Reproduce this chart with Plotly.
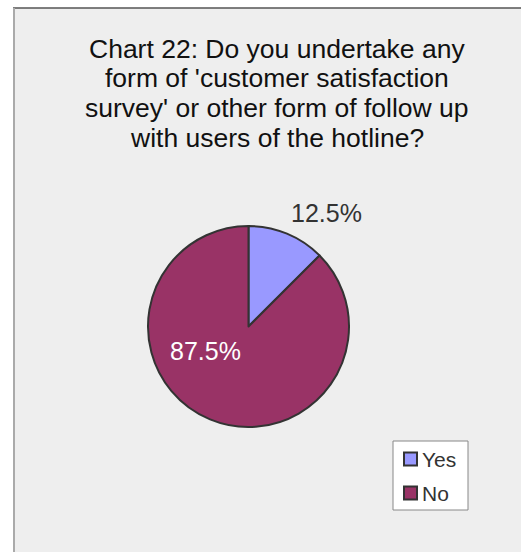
import plotly.graph_objects as go

W, H = 521, 552

# Survey answers and their shares
categories = ["Yes", "No"]
values = [12.5, 87.5]
slice_colors = ["#9999FF", "#993366"]

title_lines = [
    "Chart 22: Do you undertake any",
    "form of 'customer satisfaction",
    "survey' or other form of follow up",
    "with users of the hotline?",
]

FONT = "Liberation Sans, Arial"


def px_x(x):
    return x / W


def px_y(y):
    return 1 - y / H


total = sum(values)
pct_labels = [f"{v / total * 100:.1f}%" for v in values]

fig = go.Figure()
fig.add_trace(
    go.Pie(
        labels=categories,
        values=values,
        sort=False,
        direction="clockwise",
        rotation=0,
        marker=dict(colors=slice_colors, line=dict(color="#333333", width=2)),
        textinfo="none",
        hoverinfo="label+percent",
        domain=dict(x=[px_x(148), px_x(349)], y=[px_y(427), px_y(226)]),
        showlegend=False,
    )
)

annotations = []
# Title, one annotation per line
title_centers = [48.5, 78, 107.5, 137.5]
for line, yc in zip(title_lines, title_centers):
    annotations.append(
        dict(
            text=line,
            x=px_x(277), y=px_y(yc),
            xref="paper", yref="paper",
            xanchor="center", yanchor="middle",
            showarrow=False,
            font=dict(family=FONT, size=26.5, color="#111111"),
        )
    )

# Percentage labels for each slice
label_pos = [(326, 213, "#333333"), (205, 351, "#FFFFFF")]
for txt, (lx, ly, col) in zip(pct_labels, label_pos):
    annotations.append(
        dict(
            text=txt,
            x=px_x(lx), y=px_y(ly),
            xref="paper", yref="paper",
            xanchor="center", yanchor="middle",
            showarrow=False,
            font=dict(family=FONT, size=25, color=col),
        )
    )

shapes = [
    # chart panel
    dict(type="rect", xref="paper", yref="paper",
         x0=px_x(14), x1=px_x(560), y0=px_y(600), y1=px_y(8),
         fillcolor="#EEEEEE", line=dict(width=0), layer="below"),
    # top border
    dict(type="line", xref="paper", yref="paper",
         x0=px_x(13), x1=px_x(560), y0=px_y(8), y1=px_y(8),
         line=dict(color="#555555", width=1.5), layer="below"),
    # left border
    dict(type="line", xref="paper", yref="paper",
         x0=px_x(14), x1=px_x(14), y0=px_y(8), y1=px_y(600),
         line=dict(color="#AAAAAA", width=2), layer="below"),
    # legend box
    dict(type="rect", xref="paper", yref="paper",
         x0=px_x(393), x1=px_x(468), y0=px_y(510), y1=px_y(441),
         fillcolor="#FFFFFF", line=dict(color="#888888", width=1)),
]

# Legend entries: colour key plus category name
legend_rows = [459, 493]
for cat, col, yc in zip(categories, slice_colors, legend_rows):
    shapes.append(
        dict(type="rect", xref="paper", yref="paper",
             x0=px_x(404), x1=px_x(417), y0=px_y(yc + 6.5), y1=px_y(yc - 6.5),
             fillcolor=col, line=dict(color="#333333", width=2))
    )
    annotations.append(
        dict(
            text=cat,
            x=px_x(420), y=px_y(yc),
            xref="paper", yref="paper",
            xanchor="left", yanchor="middle",
            showarrow=False,
            font=dict(family=FONT, size=21, color="#333333"),
        )
    )

fig.update_layout(
    width=W, height=H,
    autosize=False,
    margin=dict(l=0, r=0, t=0, b=0),
    paper_bgcolor="#FFFFFF",
    plot_bgcolor="#FFFFFF",
    annotations=annotations,
    shapes=shapes,
    showlegend=False,
)

fig.write_html("out.html")
